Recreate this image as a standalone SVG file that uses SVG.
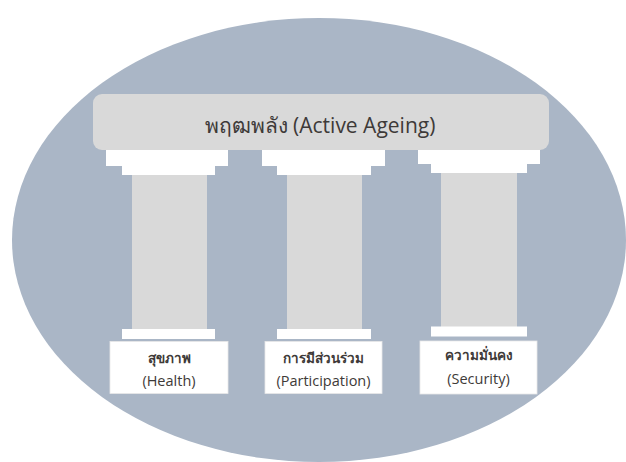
<svg xmlns="http://www.w3.org/2000/svg" width="626" height="462" viewBox="0 0 626 462">
<style>
.bg{fill:#aab6c6}
.gray{fill:#d9d9d9}
.white{fill:#ffffff}
.box{fill:#ffffff;stroke:#e8e8e8;stroke-width:0.8}
text{font-family:"Open Sans","Noto Sans","DejaVu Sans",sans-serif;fill:#3e3a38;text-anchor:middle}
.title{font-size:21px}
.lbl{font-size:14.5px}
.th{font-weight:bold;font-size:13.5px}
</style>
<rect width="626" height="462" fill="#ffffff"/>
<ellipse class="bg" cx="319" cy="240" rx="307" ry="222"/>
<g id="roof">
<rect class="gray" x="93" y="94" width="456" height="56" rx="9"/>
<text class="title" x="320" y="133">พฤฒพลัง (Active Ageing)</text>
</g>
<g id="pillar-health">
<rect class="white" x="106" y="150" width="122" height="16"/>
<rect class="white" x="122" y="165" width="93" height="10"/>
<rect class="gray" x="132" y="175" width="75" height="154"/>
<rect class="white" x="122" y="329" width="93" height="10"/>
<rect class="box" x="110" y="341.5" width="118" height="52"/>
<text class="lbl th" x="169" y="363">สุขภาพ</text>
<text class="lbl" x="169" y="386">(Health)</text>
</g>
<g id="pillar-participation">
<rect class="white" x="262" y="150" width="123" height="16"/>
<rect class="white" x="277" y="165" width="94" height="10"/>
<rect class="gray" x="287" y="175" width="75" height="154"/>
<rect class="white" x="277" y="329" width="94" height="10"/>
<rect class="box" x="265" y="341.5" width="117" height="52"/>
<text class="lbl th" x="323.5" y="363">การมีส่วนร่วม</text>
<text class="lbl" x="323.5" y="386">(Participation)</text>
</g>
<g id="pillar-security">
<rect class="white" x="418" y="150" width="122" height="14"/>
<rect class="white" x="431" y="163" width="96" height="10"/>
<rect class="gray" x="441" y="173" width="76" height="154"/>
<rect class="white" x="431" y="326.5" width="96" height="10"/>
<rect class="box" x="420" y="341" width="117" height="53"/>
<text class="lbl th" x="478.5" y="360">ความมั่นคง</text>
<text class="lbl" x="478.5" y="384">(Security)</text>
</g>
<g id="connectors"/>
</svg>
